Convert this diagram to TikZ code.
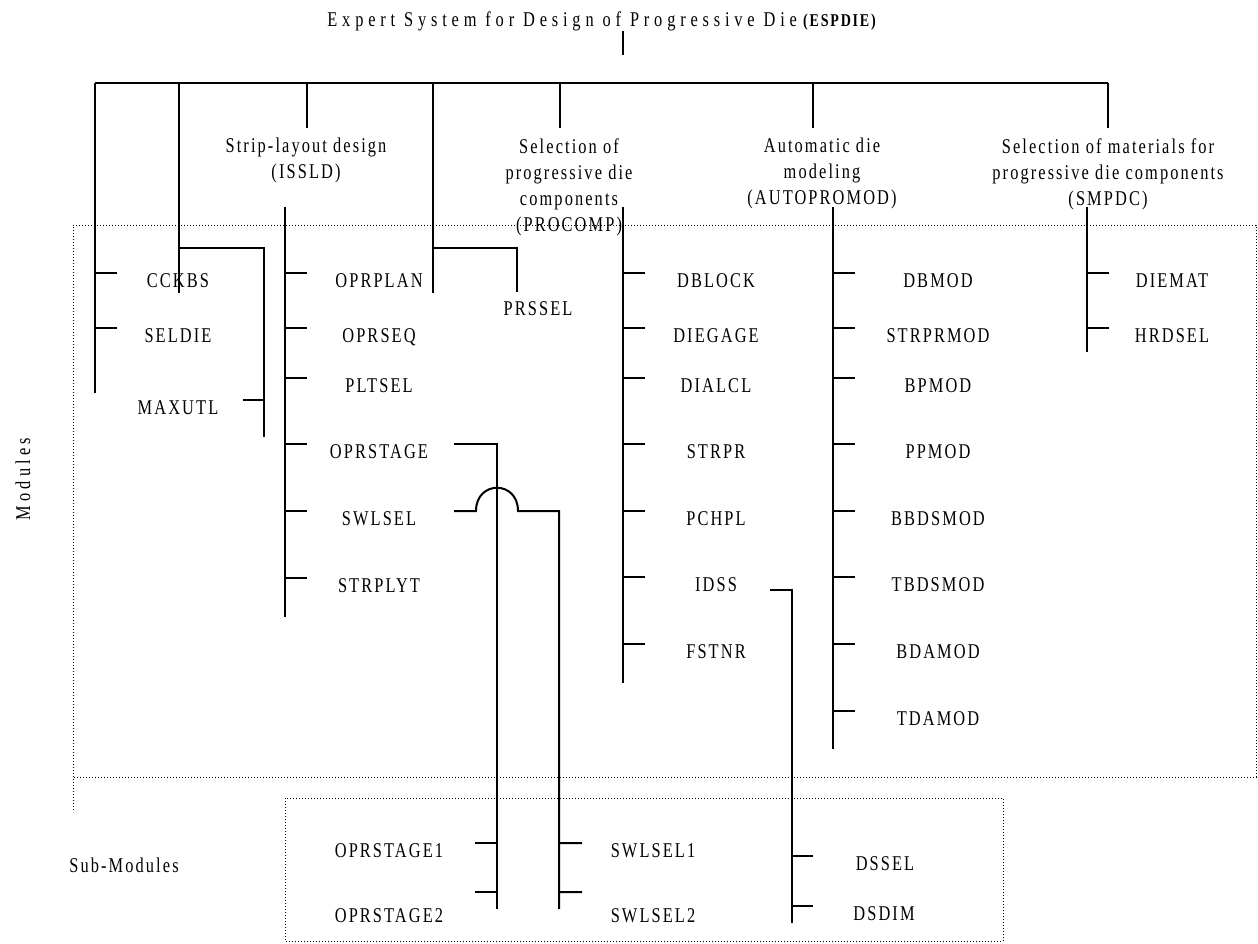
\documentclass[tikz,border=0pt]{standalone}
\usepackage{fontspec}
\setmainfont{Liberation Serif}[FakeStretch=0.78,LetterSpace=10]
\begin{document}
\begin{tikzpicture}[x=0.5pt,y=-0.5pt,
    line/.style={line width=1pt},
    box/.style={line width=0.5pt,densely dotted},
    item/.style={inner sep=0pt,anchor=north,text height=6.8pt,text depth=0pt,
      font=\fontsize{10.5}{13}\selectfont},
    head/.style={inner xsep=0pt,inner ysep=5pt,anchor=north,align=center,
      font=\fontsize{10.5}{13}\selectfont}]
    \useasboundingbox (0,0) rectangle (1258,943);

    % frames
    \draw[box] (73,810) -- (73,225) -- (1256,225) -- (1256,777) -- (73,777);
    \draw[box] (285,798) rectangle (1003,941);
    \node[rotate=90,font=\fontsize{10.5}{13}\selectfont] (modules) at (23,479)
      {\addfontfeatures{LetterSpace=20}Modules};
    \node[font=\fontsize{10.5}{13}\selectfont] (submodules) at (124,865) {Sub-Modules};

    % root
    \node[anchor=base west,inner sep=0pt,font=\fontsize{10.5}{13}\selectfont] (title) at (327,26)
      {{\addfontfeatures{LetterSpace=23}Expert System for Design of Progressive Die}
       {\fontsize{9}{11}\selectfont\bfseries (ESPDIE)}};
    \coordinate (root) at (623,55);
    \draw[line] (root |- title.south) -- (root);

    \coordinate (top1) at (95,83);
    \coordinate (top2) at (179,83);
    \coordinate (top3) at (307,83);
    \coordinate (top4) at (433,83);
    \coordinate (top5) at (560,83);
    \coordinate (top6) at (813,83);
    \coordinate (top7) at (1108,83);
    \draw[line] (top1) -- (top7);

    % modules
    \node[head] (issld) at (306,128) {Strip-layout design\\(ISSLD)};
    \node[head] (procomp) at (569,128) {Selection of\\progressive die\\components\\(PROCOMP)};
    \node[head] (autopromod) at (822,128) {Automatic die\\modeling\\(AUTOPROMOD)};
    \node[head] (smpdc) at (1108,128) {Selection of materials for\\progressive die components\\(SMPDC)};
    \draw[line] (top3) -- (top3 |- issld.north);
    \draw[line] (top5) -- (top5 |- procomp.north);
    \draw[line] (top6) -- (top6 |- autopromod.north);
    \draw[line] (top7) -- (top7 |- smpdc.north);

    \node[item] (cckbs) at (178,273) {CCKBS};
    \node[item] (seldie) at (178,328) {SELDIE};
    \node[item] (maxutl) at (178,400) {MAXUTL};
    \node[item] (prssel) at (538,301) {PRSSEL};
    \coordinate (mx-bot) at (264,437);
    \coordinate (ps-bot) at (517,292);
    \draw[line] (top1) -- ++(0,310)
      (top1 |- cckbs.north) -- +(22,0)
      (top1 |- seldie.north) -- +(22,0);
    \draw[line] (top2) -- ++(0,210);
    \draw[line] (top2) ++(0,165) -| (mx-bot)
      (mx-bot |- maxutl.north) -- +(-21,0);
    \draw[line] (top4) -- ++(0,210);
    \draw[line] (top4) ++(0,165) -| (ps-bot);

    % ISSLD
    \node[item] (oprplan) at (379,273) {OPRPLAN};
    \node[item] (oprseq) at (379,328) {OPRSEQ};
    \node[item] (pltsel) at (379,378) {PLTSEL};
    \node[item] (oprstage) at (379,444) {OPRSTAGE};
    \node[item] (swlsel) at (379,511) {SWLSEL};
    \node[item] (strplyt) at (379,578) {STRPLYT};
    \coordinate (isb) at (285,207);
    \draw[line] (isb) -- ++(0,410)
      (isb |- oprplan.north) -- +(22,0)
      (isb |- oprseq.north) -- +(22,0)
      (isb |- pltsel.north) -- +(22,0)
      (isb |- oprstage.north) -- +(22,0)
      (isb |- swlsel.north) -- +(22,0)
      (isb |- strplyt.north) -- +(22,0);

    % PROCOMP
    \node[item] (dblock) at (716,273) {DBLOCK};
    \node[item] (diegage) at (716,328) {DIEGAGE};
    \node[item] (dialcl) at (716,378) {DIALCL};
    \node[item] (strpr) at (716,444) {STRPR};
    \node[item] (pchpl) at (716,511) {PCHPL};
    \node[item] (idss) at (716,577) {IDSS};
    \node[item] (fstnr) at (716,644) {FSTNR};
    \coordinate (pcb) at (623,207);
    \draw[line] (pcb) -- ++(0,476)
      (pcb |- dblock.north) -- +(22,0)
      (pcb |- diegage.north) -- +(22,0)
      (pcb |- dialcl.north) -- +(22,0)
      (pcb |- strpr.north) -- +(22,0)
      (pcb |- pchpl.north) -- +(22,0)
      (pcb |- idss.north) -- +(22,0)
      (pcb |- fstnr.north) -- +(22,0);

    % AUTOPROMOD
    \node[item] (dbmod) at (938,273) {DBMOD};
    \node[item] (strprmod) at (938,328) {STRPRMOD};
    \node[item] (bpmod) at (938,378) {BPMOD};
    \node[item] (ppmod) at (938,444) {PPMOD};
    \node[item] (bbdsmod) at (938,511) {BBDSMOD};
    \node[item] (tbdsmod) at (938,577) {TBDSMOD};
    \node[item] (bdamod) at (938,644) {BDAMOD};
    \node[item] (tdamod) at (938,711) {TDAMOD};
    \coordinate (apb) at (833,207);
    \draw[line] (apb) -- ++(0,542)
      (apb |- dbmod.north) -- +(22,0)
      (apb |- strprmod.north) -- +(22,0)
      (apb |- bpmod.north) -- +(22,0)
      (apb |- ppmod.north) -- +(22,0)
      (apb |- bbdsmod.north) -- +(22,0)
      (apb |- tbdsmod.north) -- +(22,0)
      (apb |- bdamod.north) -- +(22,0)
      (apb |- tdamod.north) -- +(22,0);

    % SMPDC
    \node[item] (diemat) at (1172,273) {DIEMAT};
    \node[item] (hrdsel) at (1172,328) {HRDSEL};
    \coordinate (smb) at (1087,207);
    \draw[line] (smb) -- ++(0,145)
      (smb |- diemat.north) -- +(22,0)
      (smb |- hrdsel.north) -- +(22,0);

    % sub-modules
    \node[item] (oprstage1) at (389,843) {OPRSTAGE1};
    \node[item] (oprstage2) at (389,908) {OPRSTAGE2};
    \node[item] (swlsel1) at (653,843) {SWLSEL1};
    \node[item] (swlsel2) at (653,908) {SWLSEL2};
    \node[item] (dssel) at (885,856) {DSSEL};
    \node[item] (dsdim) at (884,906) {DSDIM};
    \coordinate (stg-in) at (454,444);
    \coordinate (stg-bot) at (497,909);
    \coordinate (swl-in) at (454,511);
    \coordinate (swl-bot) at (559,909);
    \coordinate (ids-in) at (770,590);
    \coordinate (ids-bot) at (792,923);
    \draw[line] (stg-in) -| (stg-bot)
      (stg-bot |- oprstage1.north) -- +(-22,0)
      (stg-bot) ++(0,-17) -- +(-22,0);
    \draw[line] (swl-in) -- ++(22,0) .. controls +(0,-31) and +(0,-31) .. ++(42,0) -| (swl-bot)
      (swl-bot |- swlsel1.north) -- +(23,0)
      (swl-bot) ++(0,-17) -- +(23,0);
    \draw[line] (ids-in) -| (ids-bot)
      (ids-bot |- dssel.north) -- +(21,0)
      (ids-bot |- dsdim.north) -- +(21,0);
\end{tikzpicture}
\end{document}
